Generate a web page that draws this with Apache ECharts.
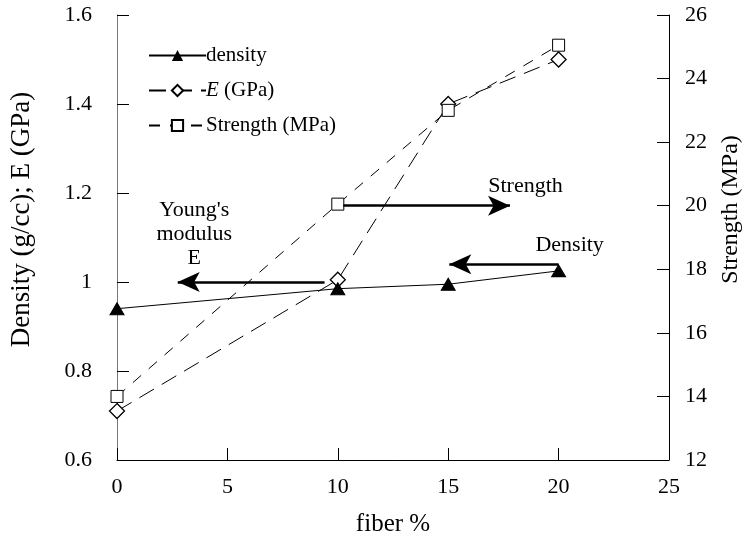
<!DOCTYPE html>
<html>
<head>
<meta charset="utf-8">
<script src="https://cdn.jsdelivr.net/npm/echarts@6/dist/echarts.min.js"></script>
<style>
  html, body { margin: 0; padding: 0; background: #fff; }
  #chart { width: 751px; height: 542px; }
</style>
</head>
<body>
<div id="chart"></div>
<script>
// Fiber content (%) and measured properties
const fiber = [0, 10, 15, 20];
const density = [0.94, 0.985, 0.995, 1.025];      // g/cc, left axis
const modulus = [0.71, 1.005, 1.40, 1.50];        // GPa, left axis
const strength = [14.0, 20.05, 23.0, 25.05];      // MPa, right axis

const xTicks = { min: 0, max: 25, interval: 5 };
const leftTicks = { min: 0.6, max: 1.6, interval: 0.2 };
const rightTicks = { min: 12, max: 26, interval: 2 };

// Arrow annotations, in data units of the axis they belong to
const strengthArrow = [[10.25, 20.0], [17.8, 20.0]];
const modulusArrow = [[9.4, 1.0], [2.75, 1.0]];
const densityArrow = [[20, 1.04], [15.05, 1.04]];

// Annotation captions (data units, left axis)
const captions = [
  { text: 'Strength', at: [18.5, 1.215] },
  { text: 'Density', at: [20.5, 1.082] },
  { text: "Young's\nmodulus\nE", at: [3.5, 1.108] }
];

const serif = '"Liberation Serif", "DejaVu Serif", serif';

const pair = (arr) => arr.map((v, i) => [fiber[i], v]);

const arrowLine = (pts) => [{ coord: pts[0] }, { coord: pts[1] }];

const arrowStyle = {
  silent: true,
  symbol: ['none', 'arrow'],
  symbolSize: [15, 22],
  lineStyle: { color: '#000', width: 2.5, type: 'solid' },
  label: { show: false },
  emphasis: { disabled: true }
};

const chart = echarts.init(document.getElementById('chart'), null, { renderer: 'canvas' });

chart.setOption({
  backgroundColor: '#fff',
  animation: false,
  grid: { left: 117, right: 79, top: 15, bottom: 74 },
  legend: {
    orient: 'vertical',
    left: 143,
    top: 40,
    itemWidth: 57,
    itemHeight: 14,
    itemGap: 14,
    textStyle: {
      fontFamily: serif, fontSize: 21, color: '#000', padding: [0, 0, 0, -5],
      rich: { i: { fontFamily: serif, fontSize: 21, fontStyle: 'italic', color: '#000' } }
    },
    formatter: (name) => name === 'E (GPa)' ? '{i|E} (GPa)' : name,
    data: ['density', 'E (GPa)', 'Strength (MPa)']
  },
  xAxis: {
    type: 'value',
    min: xTicks.min, max: xTicks.max, interval: xTicks.interval,
    name: 'fiber %',
    nameLocation: 'middle',
    nameGap: 52,
    nameTextStyle: { fontFamily: serif, fontSize: 25, color: '#000' },
    axisLine: { lineStyle: { color: '#000', width: 1 } },
    axisTick: { inside: true, length: 12, lineStyle: { color: '#000' } },
    axisLabel: { fontFamily: serif, fontSize: 22, color: '#000', margin: 16 },
    splitLine: { show: false }
  },
  yAxis: [
    {
      type: 'value',
      min: leftTicks.min, max: leftTicks.max, interval: leftTicks.interval,
      name: 'Density (g/cc); E (GPa)',
      nameLocation: 'middle',
      nameGap: 82,
      nameTextStyle: { fontFamily: serif, fontSize: 27, color: '#000', padding: [0, 0, 0, 36] },
      axisLine: { show: true, lineStyle: { color: '#777', width: 1 } },
      axisTick: { show: true, inside: true, length: 12, lineStyle: { color: '#000' } },
      axisLabel: {
        fontFamily: serif, fontSize: 22, color: '#000', margin: 25,
        formatter: (v) => String(Math.round(v * 10) / 10)
      },
      splitLine: { show: false }
    },
    {
      type: 'value',
      position: 'right',
      min: rightTicks.min, max: rightTicks.max, interval: rightTicks.interval,
      name: 'Strength (MPa)',
      nameLocation: 'middle',
      nameGap: 50,
      nameRotate: 90,
      nameTextStyle: { fontFamily: serif, fontSize: 24, color: '#000', padding: [0, 0, 0, 56] },
      axisLine: { show: true, lineStyle: { color: '#000', width: 1 } },
      axisTick: { show: true, inside: true, length: 12, lineStyle: { color: '#000' } },
      axisLabel: { fontFamily: serif, fontSize: 22, color: '#000', margin: 16 },
      splitLine: { show: false }
    }
  ],
  series: [
    {
      name: 'density',
      type: 'line',
      yAxisIndex: 0,
      data: pair(density),
      symbol: 'triangle',
      symbolSize: [14, 12],
      itemStyle: { color: '#000', borderColor: '#000' },
      lineStyle: { color: '#000', width: 1 },
      z: 5,
      markLine: Object.assign({}, arrowStyle, {
        data: [arrowLine(modulusArrow), arrowLine(densityArrow)]
      }),
      markPoint: {
        silent: true,
        symbol: 'circle',
        symbolSize: 1,
        itemStyle: { color: 'rgba(0,0,0,0)' },
        label: {
          show: true, position: 'inside', color: '#000',
          fontFamily: serif, fontSize: 22, lineHeight: 24
        },
        data: captions.map(c => ({ coord: c.at, value: c.text, label: { formatter: c.text } }))
      }
    },
    {
      name: 'E (GPa)',
      type: 'line',
      yAxisIndex: 0,
      data: pair(modulus),
      symbol: 'diamond',
      symbolSize: [15, 15],
      itemStyle: { color: '#fff', borderColor: '#000', borderWidth: 1.3 },
      lineStyle: { color: '#000', width: 1, type: [17, 9] },
      z: 4
    },
    {
      name: 'Strength (MPa)',
      type: 'line',
      yAxisIndex: 1,
      data: pair(strength),
      symbol: 'rect',
      symbolSize: 12,
      itemStyle: { color: '#fff', borderColor: '#000', borderWidth: 1 },
      lineStyle: { color: '#000', width: 1, type: [11, 10] },
      z: 4,
      markLine: Object.assign({}, arrowStyle, {
        data: [arrowLine(strengthArrow)]
      })
    }
  ]
});
</script>
</body>
</html>
